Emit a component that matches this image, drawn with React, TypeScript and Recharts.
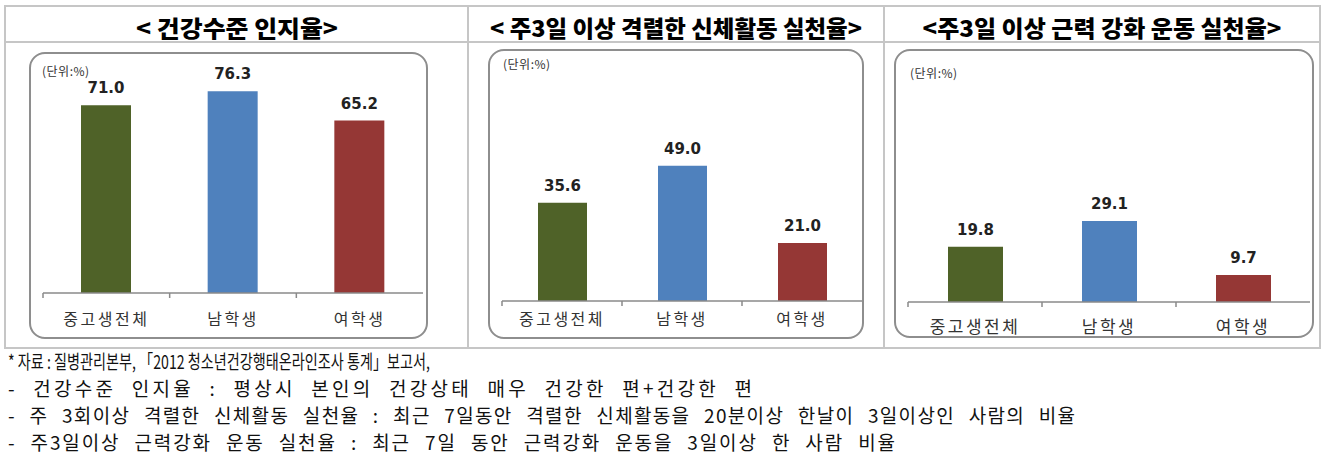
import { BarChart, Bar, XAxis, YAxis, Cell, LabelList } from "recharts";

const categories = ["중고생전체", "남학생", "여학생"];
const healthAwareness = [71.0, 76.3, 65.2];
const vigorousActivity = [35.6, 49.0, 21.0];
const strengthExercise = [19.8, 29.1, 9.7];
const barColors = ["#4f6228", "#4f81bd", "#953735"];

const titles = [
  "< 건강수준 인지율>",
  "< 주3일 이상 격렬한 신체활동 실천율>",
  "<주3일 이상 근력 강화 운동 실천율>",
];
const unitLabel = "(단위:%)";
const footnotes = [
  "* 자료 : 질병관리본부, 「2012 청소년건강행태온라인조사 통계」보고서,",
  "- 건강수준 인지율 : 평상시 본인의 건강상태 매우 건강한 편+건강한 편",
  "- 주 3회이상 격렬한 신체활동 실천율 : 최근 7일동안 격렬한 신체활동을 20분이상 한날이 3일이상인 사람의 비율",
  "- 주3일이상 근력강화 운동 실천율 : 최근 7일 동안 근력강화 운동을 3일이상 한 사람 비율",
];

const toRows = (values: number[]) =>
  categories.map((name, i) => ({ name, value: values[i] }));

// layout of each panel (page coordinates)
const panels = [
  {
    values: healthAwareness,
    max: 90,
    plotLeft: 43,
    plotRight: 423,
    plotTop: 55,
    axisY: 293,
    barSize: 50,
    labelDy: 25,
    catSize: 16,
    box: { x: 30, y: 53, w: 397, h: 285 },
    unit: { x: 42, y: 70 },
  },
  {
    values: vigorousActivity,
    max: 80,
    plotLeft: 502,
    plotRight: 862,
    plotTop: 80,
    axisY: 301,
    barSize: 49,
    labelDy: 17,
    catSize: 16,
    box: { x: 489, y: 50, w: 374, h: 288 },
    unit: { x: 503, y: 63 },
  },
  {
    values: strengthExercise,
    max: 80,
    plotLeft: 908,
    plotRight: 1310,
    plotTop: 79,
    axisY: 302,
    barSize: 55,
    labelDy: 23,
    catSize: 17,
    box: { x: 895, y: 50, w: 418, h: 287 },
    unit: { x: 910, y: 72 },
  },
];

const korean = "'Noto Sans CJK KR', 'Noto Sans', sans-serif";

function makeTick(band: number, fontSize: number, dy: number) {
  return (props: any) => {
    const { x, y, payload } = props;
    return (
      <g>
        <line
          x1={x - band / 2}
          x2={x - band / 2}
          y1={y}
          y2={y + 5}
          stroke="#8a8a8a"
          strokeWidth={1.5}
        />
        <text
          x={x}
          y={y + dy}
          textAnchor="middle"
          dominantBaseline="central"
          fontFamily={korean}
          fontSize={fontSize}
          letterSpacing={2.5}
          fill="#333"
        >
          {payload.value}
        </text>
      </g>
    );
  };
}

function Panel({ p }: { p: (typeof panels)[number] }) {
  const width = p.plotRight - p.plotLeft + 20;
  const height = p.axisY - p.plotTop + 50;
  const band = (p.plotRight - p.plotLeft) / categories.length;
  return (
    <div
      style={{
        position: "absolute",
        left: p.plotLeft - 10,
        top: p.plotTop - 5,
      }}
    >
      <BarChart
        width={width}
        height={height}
        data={toRows(p.values)}
        margin={{ top: 5, right: 10, left: 10, bottom: 5 }}
      >
        <XAxis
          dataKey="name"
          height={40}
          tickSize={0}
          tickMargin={0}
          tickLine={false}
          axisLine={{ stroke: "#8a8a8a", strokeWidth: 1.5 }}
          tick={makeTick(band, p.catSize, p.labelDy)}
          interval={0}
        />
        <YAxis hide domain={[0, p.max]} />
        <Bar dataKey="value" barSize={p.barSize} isAnimationActive={false}>
          {p.values.map((_, i) => (
            <Cell key={i} fill={barColors[i]} />
          ))}
          <LabelList
            dataKey="value"
            position="top"
            offset={12}
            formatter={(v: any) => Number(v).toFixed(1)}
            fill="#222"
            fontSize={15}
            fontWeight="bold"
            fontFamily="'DejaVu Sans', sans-serif"
          />
        </Bar>
      </BarChart>
    </div>
  );
}

const titleSpans = [
  { cx: 237, w: 202 },
  { cx: 676, w: 372 },
  { cx: 1102, w: 359 },
];
const footEnds = [430, 752, 1075, 895];
const footY = [360, 387, 414, 441];

export default function App() {
  return (
    <div
      style={{
        position: "absolute",
        left: 0,
        top: 0,
        width: 1323,
        height: 454,
        background: "#fff",
        overflow: "hidden",
      }}
    >
      <svg
        width={1323}
        height={454}
        style={{ position: "absolute", left: 0, top: 0 }}
      >
        {/* table frame */}
        <rect x={5} y={6} width={1315} height={342} fill="none" stroke="#c6c6c6" strokeWidth={2} />
        <line x1={5} x2={1320} y1={42} y2={42} stroke="#c6c6c6" strokeWidth={2} />
        <line x1={468} x2={468} y1={6} y2={348} stroke="#c6c6c6" strokeWidth={2} />
        <line x1={884} x2={884} y1={6} y2={348} stroke="#c6c6c6" strokeWidth={2} />

        {titles.map((t, i) => (
          <text
            key={t}
            x={titleSpans[i].cx - titleSpans[i].w / 2}
            y={27}
            dominantBaseline="central"
            fontFamily={korean}
            fontWeight={900}
            fontSize={23}
            textLength={titleSpans[i].w}
            lengthAdjust="spacingAndGlyphs"
            fill="#000"
          >
            {t}
          </text>
        ))}

        {panels.map((p, i) => (
          <g key={i}>
            <rect
              x={p.box.x}
              y={p.box.y}
              width={p.box.w}
              height={p.box.h}
              rx={15}
              fill="#fff"
              stroke="#8e8e8e"
              strokeWidth={2}
            />
            <text
              x={p.unit.x}
              y={p.unit.y}
              dominantBaseline="central"
              fontFamily={korean}
              fontSize={12}
              letterSpacing={0.5}
              fill="#333"
            >
              {unitLabel}
            </text>
          </g>
        ))}

        {footnotes.map((f, i) => (
          <text
            key={i}
            x={8}
            y={footY[i]}
            dominantBaseline="central"
            fontFamily={korean}
            fontSize={19}
            wordSpacing={i === 0 ? 0 : 8}
            textLength={footEnds[i] - 8}
            lengthAdjust={i === 0 ? "spacingAndGlyphs" : "spacing"}
            fill="#111"
          >
            {f}
          </text>
        ))}
      </svg>
      {panels.map((p, i) => (
        <Panel key={i} p={p} />
      ))}
    </div>
  );
}
